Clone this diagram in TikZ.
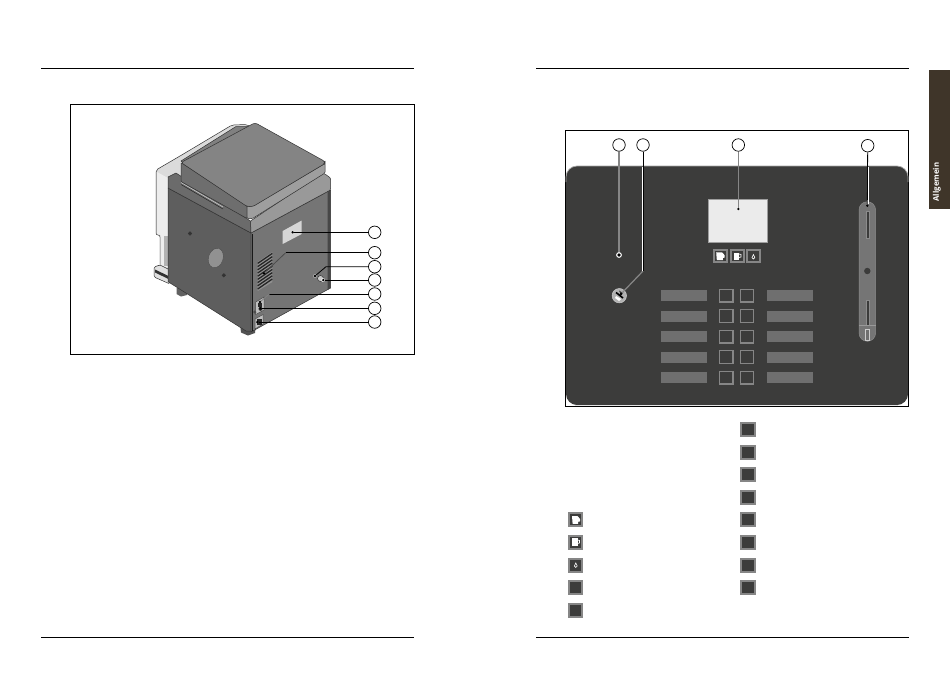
\documentclass[tikz,border=0pt]{standalone}
\usepackage{fontspec}
\setmainfont{Open Sans}
\definecolor{paneldark}{HTML}{3C3C3B}
\definecolor{bargrey}{HTML}{6F6F6F}
\definecolor{edgegrey}{HTML}{868686}
\definecolor{tabbrown}{HTML}{3F3529}
\definecolor{lefttone}{HTML}{5E5E5E}
\definecolor{righttone}{HTML}{757575}
\definecolor{lidtop}{HTML}{848484}
\tikzset{
  x=1pt,y=-1pt,
  callout/.style={circle,draw=black,fill=white,line width=.7pt,minimum size=12.5pt,inner sep=0pt},
  leader/.style={draw=black,line width=.8pt},
  greyleader/.style={draw=edgegrey,line width=1.3pt},
  tipdot/.style={circle,fill=black,minimum size=2.6pt,inner sep=0pt},
  rule/.style={draw=black,line width=.9pt},
  frame/.style={draw=black,line width=.8pt,fill=white},
  outline/.style={draw=black!80,line width=.5pt,line join=round},
  keybox/.style={draw=edgegrey,line width=1.2pt},
  iconbox/.style={fill=paneldark,draw=edgegrey,line width=2pt},
}
\begin{document}
\begin{tikzpicture}
\useasboundingbox (0,0) rectangle (950,672);
\fill[white] (0,0) rectangle (950,672);
% page rules
\draw[rule] (41,68.5) -- (414,68.5);
\draw[rule] (536,68.5) -- (909,68.5);
\draw[rule] (41,637.5) -- (414,637.5);
\draw[rule] (536,637.5) -- (909,637.5);
% tab
\fill[tabbrown] (929,70) rectangle (950,208.5);
\node[rotate=90,text=white,font=\fontsize{7.8}{8}\selectfont\bfseries,inner sep=0pt] (tabtext) at (936.8,182) {Allgemein};
% left frame
\draw[frame] (70.5,104.5) rectangle (414.5,354.5);
% feet
\fill[black!62] (176.5,288) -- (187,288) -- (187,295) -- (181,296.5) -- (176.5,294) -- cycle;
\fill[black!68] (240,324) -- (256,324) -- (255,333) -- (248,335.5) -- (241,332.5) -- cycle;
% rear white housing
\draw[outline,fill=black!14,rounded corners=2pt] (156,170) -- (180,156) -- (232,125) -- (247,124.5) -- (255,130) -- (190,175) -- (170,270) -- (160,268) -- (160,235) -- (156,235) -- cycle;
\fill[white!93!black] (157,172) -- (168,178) -- (168,268) -- (160.5,266) -- (160.5,235) -- (157,234) -- cycle;
\fill[black!30] (164,235.5) rectangle (168,266);
\draw[outline,fill=black!50] (181,161) -- (236,126.5) -- (250,126.5) -- (190,170) -- cycle;
% base
\draw[outline,fill=white!88!black,rounded corners=1.5pt] (154,267) -- (160,265) -- (170,270) -- (170,284) -- (154,277) -- cycle;
\fill[black!80] (155,269.5) -- (168.5,276) -- (168.5,279) -- (155,272.5) -- cycle;
% body faces
\draw[outline,fill=lefttone] (168,188) -- (251,233) -- (251,331) -- (246,331) -- (168,281.7) -- cycle;
\draw[outline,fill=righttone] (251,233) -- (330.5,190) -- (330.5,288) -- (251,332) -- cycle;
\fill[black!72] (327.5,192) -- (330.5,190) -- (330.5,288) -- (327.5,290) -- cycle;
\draw[black!90,line width=.5pt] (252.5,234) -- (252.5,331);
% collar
\draw[outline,fill=lefttone!92!white] (168,177) -- (176,173) -- (250.5,221) -- (251,233) -- (168,188) -- cycle;
\draw[outline,fill=black!40,rounded corners=1pt] (250.5,221) -- (322,173) -- (325,174) -- (330.5,178) -- (330.5,190) -- (251,233) -- cycle;
\draw[black!20,line width=.6pt] (181,182.5) -- (223,207);
\draw[black!85,line width=.5pt] (181,184.5) -- (223,209);
% lid
\draw[outline,fill=lefttone!90!white,rounded corners=1pt] (181,162.5) -- (181,181.5) -- (247,218.5) -- (247,206) -- cycle;
\draw[outline,fill=black!38,rounded corners=1pt] (247,206) -- (253,206) -- (325,163.5) -- (325,173) -- (252.5,218.5) -- (247,218.5) -- cycle;
\draw[outline,fill=lidtop,rounded corners=2.5pt] (181,162.5) -- (255,122.7) -- (325,161.5) -- (325,163.5) -- (253,206.5) -- (247,206.5) -- cycle;
% left face holes
\draw[black!70,fill=black!43,line width=.4pt,rotate around={-18:(215.8,258)}] (215.8,258) ellipse (7.3 and 10);
\draw[black!80,fill=black!80,line width=.4pt] (190,233.5) circle (1.8);
\draw[black!80,fill=black!80,line width=.4pt] (223.8,275.3) circle (1.8);
% right face details
\fill[black!16] (282.7,231) -- (301.7,220.5) -- (301.7,234) -- (282.7,244) -- cycle;
\fill[black!43] (257.7,262) -- (272.3,252) -- (272.3,282) -- (257.7,291) -- cycle;
\foreach \k in {0,...,8}{
  \draw[black!85,line width=1.3pt] (257.7,{263.4+\k*3.2}) -- (272.3,{253.4+\k*3.2});
}
\fill[black!30] (315,276) circle (2);
\draw[black!80,fill=white!80!black,line width=.5pt] (320.5,278.5) circle (3);
\fill[black!10] (323,280) circle (2);
\draw[black!70,fill=black!25,line width=.5pt] (255.7,302) -- (264,297) -- (264,310) -- (255.7,314.5) -- cycle;
\draw[black!70,fill=black!25,line width=.5pt] (255,319) -- (263,314.5) -- (263,324) -- (255,329) -- cycle;
\fill[black!85] (258,302.5) rectangle (262,306.5);
\fill[black!85] (257,319) rectangle (261.5,325);
\fill[black!70] (254.8,312) circle (1.7);
\fill[black!85] (260.5,308.8) circle (2);
% left callouts
\node[callout] (a1) at (374.7,232.3) {};
\node[callout] (a2) at (374.7,252.7) {};
\node[callout] (a3) at (374.7,266.7) {};
\node[callout] (a4) at (374.7,280) {};
\node[callout] (a5) at (374.7,294) {};
\node[callout] (a6) at (374.7,308.3) {};
\node[callout] (a7) at (374.7,322) {};
\node[tipdot] (ta1) at (292.7,232.3) {};
\node[tipdot] (ta2) at (264,273.3) {};
\node[tipdot] (ta3) at (315,276) {};
\node[tipdot] (ta4) at (323.3,280) {};
\node[tipdot] (ta5) at (260,302) {};
\node[tipdot] (ta6) at (260.5,308.3) {};
\node[tipdot] (ta7) at (257.3,322) {};
\coordinate (ba2) at (285.7,252.7);
\coordinate (ba3) at (326,266.7);
\coordinate (ba5) at (269.3,294);
\draw[leader] (a1) -- (ta1);
\draw[leader] (a2) -- (ba2);
\draw[leader,draw=black!70] (ba2) -- (ta2);
\draw[leader] (a3) -- (ba3) -- (ta3);
\draw[leader] (a4) -- (ta4);
\draw[leader] (a5) -- (ba5);
\draw[leader,draw=black!50] (ba5) -- (ta5);
\draw[leader] (a6) -- (ta6);
\draw[leader] (a7) -- (ta7);
% right frame
\draw[frame] (565.5,130.5) rectangle (908.5,406);
% panel
\fill[paneldark,rounded corners=11pt] (566,166) rectangle (908,405);
\draw[black!35,line width=.7pt,rounded corners=11pt] (566,182) -- (566,166) -- (908,166) -- (908,182);
\draw[black!10,line width=.6pt] (575,405.3) -- (898,405.3);
% display
\node[draw=edgegrey!80,fill=black!8,line width=.7pt,minimum width=58.5pt,minimum height=43pt,inner sep=0pt] (disp) at (737.7,220.8) {};
% display keys
\foreach \xx in {720.5,737.2,753.4}{\draw[iconbox] (\xx-6.5,249.7) rectangle (\xx+6.5,262);}
\fill[white] (716.2,252.3) -- (722,252.3) -- (724.6,255.2) -- (724.6,257.6) -- (722.8,258) -- (722.8,260) -- (716.8,260) -- cycle;
\fill[white] (733.5,252.5) -- (739,252.5) -- (739,259.8) -- (733.5,259.8) -- cycle;
\draw[white,line width=.7pt] (739,254) -- (741,254.5) -- (741,257) -- (739,257.5);
\draw[white,line width=.6pt] (753.4,254.5) -- (752,257.6) arc (180:0:1.4) -- cycle;
% key rows
\foreach \yy in {290,310.5,331,351.5,372}{
  \fill[bargrey] (660.5,\yy) rectangle (706.5,\yy+11);
  \fill[bargrey] (767,\yy) rectangle (813,\yy+11);
  \draw[keybox] (719.5,\yy-.8) rectangle (733,\yy+12);
  \draw[keybox] (740.5,\yy-.8) rectangle (753.5,\yy+12);
}
% slider
\draw[fill=righttone,draw=black!45,line width=.5pt] (859,210) arc (180:360:8.3) -- (875.6,333) arc (0:180:8.3) -- cycle;
\draw[black!45,fill=paneldark,line width=.4pt] (865.9,211) rectangle (869,238.3);
\draw[black!45,fill=paneldark,line width=.4pt] (865.9,300) rectangle (869,325);
\fill[paneldark] (867.3,271) circle (3.2);
\draw[black!40,line width=.5pt] (859,325) -- (875.6,325);
\draw[white!80!black,fill=bargrey,line width=.6pt] (865.2,329.5) rectangle (869.5,340);
% knob
\draw[black!20,fill=black!30,line width=.5pt] (619.3,295.7) circle (7.2);
\draw[black,line width=1.6pt] (616,292.5) -- (623,298);
\fill[white] (616,296) -- (621,299) -- (619,301) -- (615,298) -- cycle;
\fill[black!80] (619,290.5) -- (623,293) -- (621,295) -- cycle;
% right callouts
\node[callout] (b1) at (619,145) {};
\node[callout] (b2) at (643,145) {};
\node[callout] (b3) at (738.3,145) {};
\node[callout] (b4) at (867.7,145.7) {};
\node[circle,draw=white,fill=black,line width=1.1pt,minimum size=4.6pt,inner sep=0pt] (tb1) at (619,255) {};
\node[tipdot] (tb2) at (621,294) {};
\node[tipdot] (tb3) at (738.3,209) {};
\node[tipdot] (tb4) at (867.3,205.7) {};
\coordinate (bb2) at (643,271);
\draw[greyleader] (b1) -- (tb1);
\draw[greyleader] (b3) -- (tb3);
\draw[draw=edgegrey,line width=1.2pt] (bb2) -- (tb2);
\draw[leader,draw=white,line width=2pt] (643,167) -- (bb2);
\draw[leader] (b2) -- (bb2);
\draw[leader,draw=white,line width=2pt] (867.5,167) -- (867.5,204);
\draw[leader] (b4) -- (tb4);
% legend keys
\foreach \yy in {429,452,474.3,497,519.7,542,565,587.7}{\draw[iconbox] (741.2,\yy-6.5) rectangle (754.6,\yy+6.5);}
\foreach \yy in {519.7,542,565,587.7,610}{\draw[iconbox] (569.2,\yy-6.5) rectangle (582.4,\yy+6.5);}
\fill[white] (572,516) -- (577.5,516) -- (580,519) -- (580,521.4) -- (578.2,521.8) -- (578.2,523.8) -- (572.6,523.8) -- cycle;
\fill[white] (572,538.3) -- (577.5,538.3) -- (577.5,545.7) -- (572,545.7) -- cycle;
\draw[white,line width=.7pt] (577.5,540) -- (579.5,540.5) -- (579.5,543) -- (577.5,543.5);
\draw[white,line width=.6pt] (575.8,563) -- (574.4,566) arc (180:0:1.4) -- cycle;
\end{tikzpicture}
\end{document}
